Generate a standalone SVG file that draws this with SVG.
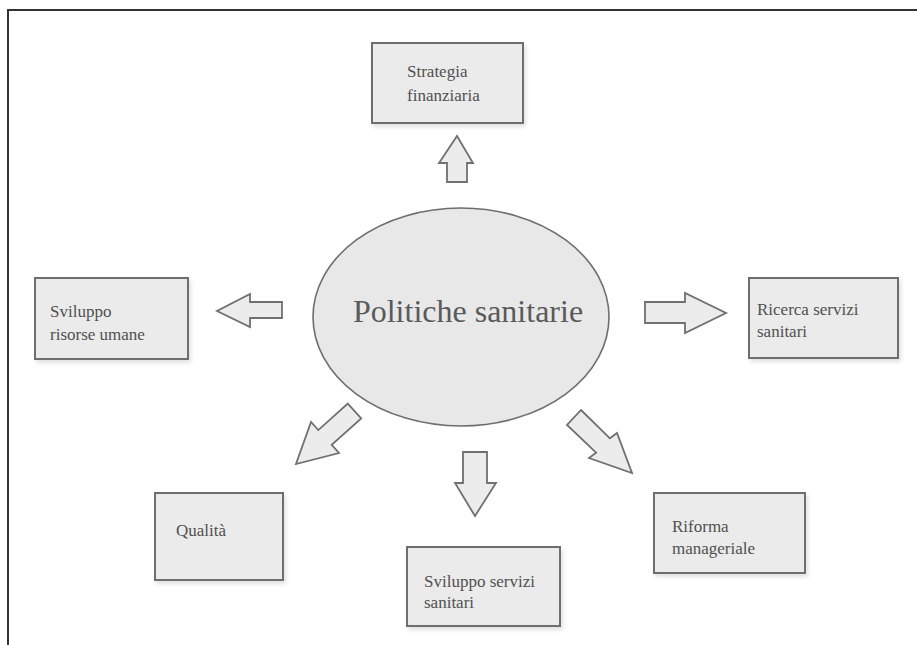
<svg xmlns="http://www.w3.org/2000/svg" width="917" height="645" viewBox="0 0 917 645">
<defs>
<filter id="sh" x="-10%" y="-10%" width="130%" height="130%">
<feGaussianBlur in="SourceAlpha" stdDeviation="2"/>
<feOffset dx="2" dy="3"/>
<feComponentTransfer><feFuncA type="linear" slope="0.12"/></feComponentTransfer>
<feMerge><feMergeNode/><feMergeNode in="SourceGraphic"/></feMerge>
</filter>
</defs>
<style>
.box{fill:#ebebeb;stroke:#6e6e6e;stroke-width:2;filter:url(#sh)}
.ell{fill:#e8e8e8;stroke:#6e6e6e;stroke-width:1.6}
.arr{fill:#ececec;stroke:#707070;stroke-width:1.8;stroke-linejoin:miter}
.t{font-family:"Liberation Serif","Times New Roman",serif;font-size:17px;fill:#505050}
.big{font-family:"Liberation Serif","Times New Roman",serif;font-size:32px;fill:#5a5a5a}
.frame{stroke:#333;stroke-width:2;fill:none}
</style>
<rect width="917" height="645" fill="#ffffff"/>
<path class="frame" d="M8,645 V10 H917"/>

<g id="connectors">
<polygon class="arr" points="447,182 467,182 467,163 473,163 457,136 439,163 447,163"/>
<polygon class="arr" points="282,302 282,318 250,318 250,327 217,311 250,294 250,302"/>
<polygon class="arr" points="645,302 685,302 685,293 726,313 685,333 685,323 645,323"/>
<polygon class="arr" points="463,452 487,452 487,483 496,483 475,516 455,483 463,483"/>
<polygon class="arr" points="347.8,403.6 361.2,418.4 331.7,444.9 339,453 296,464 311,422 318.3,430.1"/>
<polygon class="arr" points="581,410 609.9,438.3 617,433 632,473 589,458 596.1,452.7 567,425"/>
</g>

<g id="center">
<ellipse class="ell" cx="461" cy="317" rx="148" ry="109"/>
<text class="big" x="468" y="322" text-anchor="middle">Politiche sanitarie</text>
</g>

<g id="strategia">
<rect class="box" x="372" y="43" width="151" height="80"/>
<text class="t" x="407" y="77">Strategia</text>
<text class="t" x="407" y="101">finanziaria</text>
</g>

<g id="risorse">
<rect class="box" x="35" y="278" width="153" height="81"/>
<text class="t" x="50" y="317">Sviluppo</text>
<text class="t" x="50" y="340">risorse umane</text>
</g>

<g id="ricerca">
<rect class="box" x="749" y="278" width="149" height="80"/>
<text class="t" x="757" y="315">Ricerca servizi</text>
<text class="t" x="757" y="337">sanitari</text>
</g>

<g id="qualita">
<rect class="box" x="155" y="493" width="128" height="87"/>
<text class="t" x="176" y="536">Qualità</text>
</g>

<g id="servizi">
<rect class="box" x="407" y="547" width="153" height="79"/>
<text class="t" x="424" y="587">Sviluppo servizi</text>
<text class="t" x="424" y="608">sanitari</text>
</g>

<g id="riforma">
<rect class="box" x="654" y="493" width="151" height="80"/>
<text class="t" x="672" y="532">Riforma</text>
<text class="t" x="672" y="554">manageriale</text>
</g>
</svg>
